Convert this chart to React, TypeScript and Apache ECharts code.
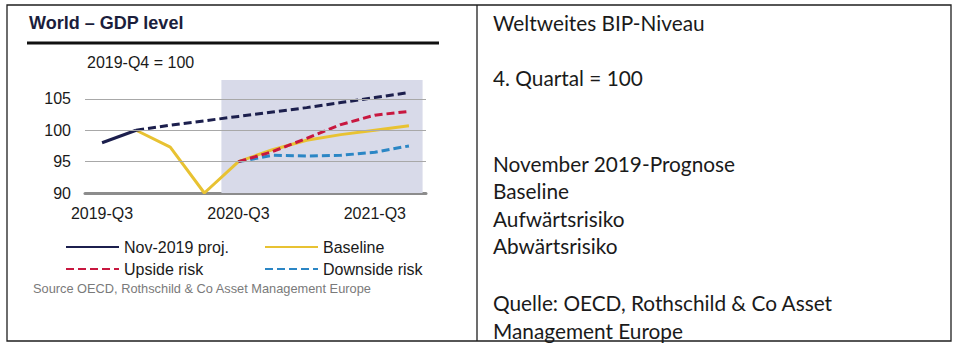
import React, { useEffect, useRef } from "react";
import * as echarts from "echarts";

const QUARTERS = ["2019-Q3", "2019-Q4", "2020-Q1", "2020-Q2", "2020-Q3", "2020-Q4", "2021-Q1", "2021-Q2", "2021-Q3", "2021-Q4"];
const NOV2019_ACTUAL = [98, 100, null, null, null, null, null, null, null, null];
const NOV2019_PROJ = [null, 100, 100.8, 101.5, 102.2, 102.9, 103.6, 104.4, 105.2, 106.0];
const BASELINE = [null, 100, 97.3, 90, 95, 96.9, 98.4, 99.3, 100.0, 100.7];
const UPSIDE = [null, null, null, null, 95, 96.6, 98.7, 100.9, 102.4, 103.0];
const DOWNSIDE = [null, null, null, null, 95, 96.0, 95.9, 96.0, 96.5, 97.5];
const Y_TICKS = [90, 95, 100, 105];
const Y_MIN = 90;
const Y_TOP = 108;
const SHADE_RANGE = [4.0, 9.9];

const RIGHT_TEXTS = [
  { t: "Weltweites BIP-Niveau", y: 22 },
  { t: "4. Quartal = 100", y: 77 },
  { t: "November 2019-Prognose", y: 163 },
  { t: "Baseline", y: 190 },
  { t: "Aufwärtsrisiko", y: 218 },
  { t: "Abwärtsrisiko", y: 245 },
  { t: "Quelle: OECD, Rothschild & Co Asset", y: 302 },
  { t: "Management Europe", y: 330 },
];

const FONT = "'Liberation Sans', Arial, sans-serif";
const NAVY = "#1c1f4d";
const YELLOW = "#e8c232";
const RED = "#c8173f";
const BLUE = "#2b86c5";
const DASH = [8, 4];

export default function App() {
  const ref = useRef<HTMLDivElement>(null);
  useEffect(() => {
    if (!ref.current) return;
    const chart = echarts.init(ref.current, null, { renderer: "svg" });
    const lineBase = { type: "line", symbol: "none", showSymbol: false, connectNulls: false, z: 3 };
    const legendBase = {
      orient: "vertical",
      top: 234,
      itemWidth: 53,
      itemHeight: 14,
      itemGap: 6,
      itemStyle: { opacity: 0 },
      textStyle: { fontSize: 16, color: "#1a1a1a", fontFamily: FONT },
    };
    chart.setOption({
      animation: false,
      textStyle: { fontFamily: FONT },
      grid: { left: 85, right: 534, top: 80, bottom: 156, containLabel: false },
      xAxis: [
        {
          type: "category",
          data: QUARTERS,
          boundaryGap: true,
          axisLine: { show: true, lineStyle: { color: "#8c8c8c", width: 3 } },
          axisTick: { show: false },
          axisLabel: { interval: 3, fontSize: 16, color: "#1a1a1a", margin: 12, fontFamily: FONT },
          splitLine: { show: false },
        },
        { type: "value", min: 0, max: 10, show: false },
      ],
      yAxis: {
        type: "value",
        min: Y_MIN,
        max: Y_TOP,
        interval: 5,
        axisLine: { show: false },
        axisTick: { show: false },
        splitLine: { show: false },
        axisLabel: {
          fontSize: 16,
          color: "#1a1a1a",
          margin: 14,
          fontFamily: FONT,
          formatter: (v: number) => (Y_TICKS.includes(v) ? String(v) : ""),
        },
      },
      legend: [
        { ...legendBase, data: ["Nov-2019 proj.", "Upside risk"], left: 60 },
        { ...legendBase, data: ["Baseline", "Downside risk"], left: 259 },
      ],
      series: [
        {
          name: "shade",
          type: "line",
          xAxisIndex: 1,
          data: [],
          silent: true,
          z: 1,
          markArea: {
            silent: true,
            itemStyle: { color: "#d8dae9" },
            data: [[{ xAxis: SHADE_RANGE[0], yAxis: Y_TOP }, { xAxis: SHADE_RANGE[1], yAxis: Y_MIN }]],
          },
        },
        {
          name: "gridlines",
          type: "line",
          xAxisIndex: 1,
          data: [],
          silent: true,
          z: 2,
          markLine: {
            silent: true,
            symbol: ["none", "none"],
            label: { show: false },
            lineStyle: { color: "#a8a8a8", width: 1, type: "solid" },
            data: Y_TICKS.slice(1).map((v) => ({ yAxis: v })),
          },
        },
        { ...lineBase, name: "Baseline", data: BASELINE, lineStyle: { color: YELLOW, width: 3 }, itemStyle: { color: YELLOW } },
        { ...lineBase, name: "Downside risk", data: DOWNSIDE, lineStyle: { color: BLUE, width: 3, type: DASH }, itemStyle: { color: BLUE } },
        { ...lineBase, name: "Upside risk", data: UPSIDE, lineStyle: { color: RED, width: 3, type: DASH }, itemStyle: { color: RED } },
        { ...lineBase, name: "Nov-2019 proj.", data: NOV2019_ACTUAL, lineStyle: { color: NAVY, width: 3 }, itemStyle: { color: NAVY } },
        { ...lineBase, name: "Nov-2019 projection", data: NOV2019_PROJ, lineStyle: { color: NAVY, width: 3, type: DASH }, itemStyle: { color: NAVY } },
      ],
      graphic: [
        { type: "rect", shape: { x: 7, y: 5, width: 944, height: 336 }, style: { fill: "none", stroke: "#1f1f1f", lineWidth: 1.3 }, silent: true },
        { type: "line", shape: { x1: 477, y1: 5, x2: 477, y2: 341 }, style: { stroke: "#1f1f1f", lineWidth: 1.3 }, silent: true },
        {
          type: "text",
          x: 29,
          y: 23,
          style: { text: "World – GDP level", fill: "#1b1e3c", font: "bold 18px " + FONT, textVerticalAlign: "middle" },
        },
        { type: "line", shape: { x1: 27, y1: 43, x2: 439, y2: 43 }, style: { stroke: "#111", lineWidth: 3 } },
        { type: "text", x: 87, y: 62, style: { text: "2019-Q4 = 100", font: "16px " + FONT, fill: "#1a1a1a", textVerticalAlign: "middle" } },
        {
          type: "text",
          x: 33,
          y: 288,
          style: { text: "Source OECD, Rothschild & Co Asset Management Europe", font: "12.8px " + FONT, fill: "#7a7a7a", textVerticalAlign: "middle" },
        },
        ...RIGHT_TEXTS.map((r) => ({
          type: "text",
          x: 493,
          y: r.y,
          style: { text: r.t, font: "20.8px Lato, 'Open Sans', sans-serif", fill: "#1a1a1a", textVerticalAlign: "middle" },
        })),
      ],
    });
    return () => chart.dispose();
  }, []);
  return <div ref={ref} style={{ position: "absolute", left: 0, top: 0, width: 960, height: 349 }} />;
}
